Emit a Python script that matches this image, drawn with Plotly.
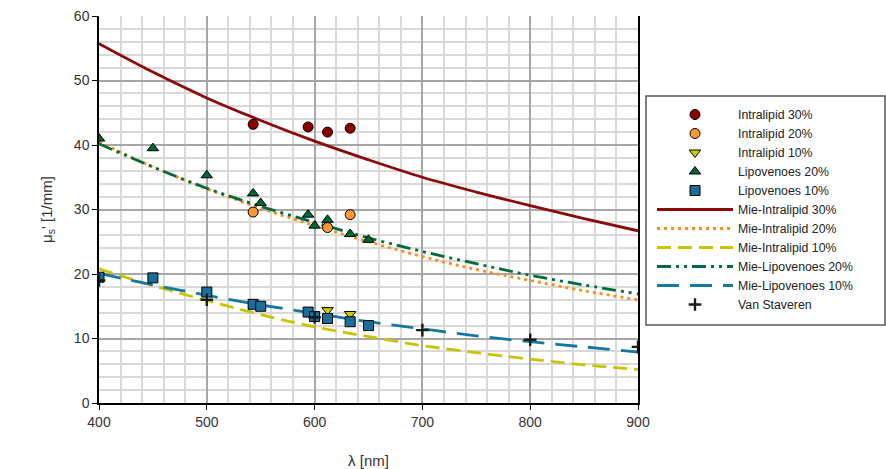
import plotly.graph_objects as go

# ---------------- data ----------------
il30_x = [543, 594, 612, 633]
il30_y = [43.2, 42.8, 42.0, 42.6]
il20_x = [543, 612, 633]
il20_y = [29.6, 27.2, 29.2]
il10_x = [612, 633]
il10_y = [14.4, 13.8]
lv20_x = [400, 450, 500, 543, 550, 594, 600, 612, 633, 650]
lv20_y = [41.0, 39.5, 35.3, 32.5, 31.0, 29.2, 27.5, 28.4, 26.2, 25.3]
lv10_x = [400, 450, 500, 543, 550, 594, 600, 612, 633, 650]
lv10_y = [19.5, 19.4, 17.2, 15.3, 15.0, 14.1, 13.4, 13.1, 12.6, 12.0]
vs_x = [400, 500, 600, 700, 800, 900]
vs_y = [19.0, 16.0, 13.3, 11.3, 9.8, 8.7]

mie_x = [400, 450, 500, 550, 600, 650, 700, 750, 800, 850, 900]
mie_il30 = [55.7, 51.3, 47.3, 43.8, 40.6, 37.7, 35.0, 32.7, 30.6, 28.6, 26.7]
mie_il20 = [40.5, 36.6, 33.2, 30.2, 27.5, 25.0, 22.7, 20.7, 19.0, 17.4, 16.0]
mie_il10 = [20.8, 18.2, 15.9, 13.7, 11.8, 10.3, 8.9, 7.8, 6.8, 5.9, 5.2]
mie_lv20 = [40.2, 36.6, 33.3, 30.5, 28.0, 25.6, 23.5, 21.6, 19.8, 18.3, 16.9]
mie_lv10 = [20.1, 18.3, 16.7, 15.2, 13.9, 12.6, 11.5, 10.4, 9.5, 8.7, 7.9]

FONT = "Liberation Sans, Arial, sans-serif"

fig = go.Figure()

# lines first (drawn underneath), ranked after markers in legend
lines = [
    ("Mie-Intralipid 30%", mie_il30, "#8B0A0A", "solid"),
    ("Mie-Intralipid 20%", mie_il20, "#FF8C1A", "3px,4px"),
    ("Mie-Intralipid 10%", mie_il10, "#C8C400", "14px,7px"),
    ("Mie-Lipovenoes 20%", mie_lv20, "#006B3C", "14px,5px,3px,5px,3px,5px"),
    ("Mie-Lipovenoes 10%", mie_lv10, "#1478A0", "22px,11px"),
]
for i, (name, ys, col, dash) in enumerate(lines):
    fig.add_trace(go.Scatter(x=mie_x, y=ys, mode="lines", name=name,
                             line=dict(color=col, width=2.8, dash=dash, shape="spline"),
                             legendrank=10 + i))

markers = [
    ("Intralipid 30%", il30_x, il30_y, "#8B0000", "circle"),
    ("Intralipid 20%", il20_x, il20_y, "#FF9933", "circle"),
    ("Intralipid 10%", il10_x, il10_y, "#CCCC00", "triangle-down"),
    ("Lipovenoes 20%", lv20_x, lv20_y, "#006633", "triangle-up"),
    ("Lipovenoes 10%", lv10_x, lv10_y, "#1A6E99", "square"),
]
for i, (name, xs, ys, col, sym) in enumerate(markers):
    fig.add_trace(go.Scatter(x=xs, y=ys, mode="markers", name=name,
                             marker=dict(color=col, symbol=sym, size=10,
                                         line=dict(color="#000000", width=1)),
                             legendrank=1 + i))

fig.add_trace(go.Scatter(x=vs_x, y=vs_y, mode="markers", name="Van Staveren",
                         marker=dict(color="#1a1a1a", symbol="cross-thin", size=9,
                                     line=dict(color="#1a1a1a", width=2.4)),
                         legendrank=20))

axis_common = dict(
    showline=True, linecolor="#000000", linewidth=1.5,
    ticks="outside", ticklen=5, tickcolor="#000000", tickwidth=1.2,
    showgrid=True, gridcolor="#A6A6A6", gridwidth=1.5,
    tickfont=dict(family=FONT, size=14, color="#333333"),
    zeroline=False, automargin=False,
)

fig.update_xaxes(range=[400, 900], dtick=100, tick0=400,
                 minor=dict(dtick=20, showgrid=True, gridcolor="#D9D9D9", gridwidth=1.5, ticks=""),
                 title=dict(text="λ [nm]", font=dict(family=FONT, size=15, color="#333333"), standoff=30),
                 **axis_common)
fig.update_yaxes(range=[0, 60], dtick=10, tick0=0, mirror=True,
                 minor=dict(dtick=2, showgrid=True, gridcolor="#D9D9D9", gridwidth=1.5, ticks=""),
                 title=dict(text="μ<sub>s</sub>' [1/mm]", font=dict(family=FONT, size=15, color="#333333"), standoff=18),
                 **axis_common)

# legend box
W, H = 886, 469
L, R, T, B = 99, 248, 16, 66
pw, ph = W - L - R, H - T - B
def px2x(p):
    return (p - L) / pw
def py2y(p):
    return (H - B - p) / ph

fig.add_shape(type="rect", xref="paper", yref="paper",
              x0=px2x(646), x1=px2x(885), y0=py2y(325), y1=py2y(96),
              line=dict(color="#555555", width=1.5), fillcolor="rgba(0,0,0,0)")

fig.update_layout(
    width=W, height=H,
    margin=dict(l=L, r=R, t=T, b=B, pad=0, autoexpand=False),
    paper_bgcolor="white", plot_bgcolor="white",
    showlegend=True,
    legend=dict(x=px2x(652), y=py2y(100), xanchor="left", yanchor="top",
                bgcolor="rgba(0,0,0,0)", borderwidth=0,
                font=dict(family=FONT, size=12.3, color="#222222"),
                itemwidth=76, tracegroupgap=0),
)

fig.write_html("out.html")
